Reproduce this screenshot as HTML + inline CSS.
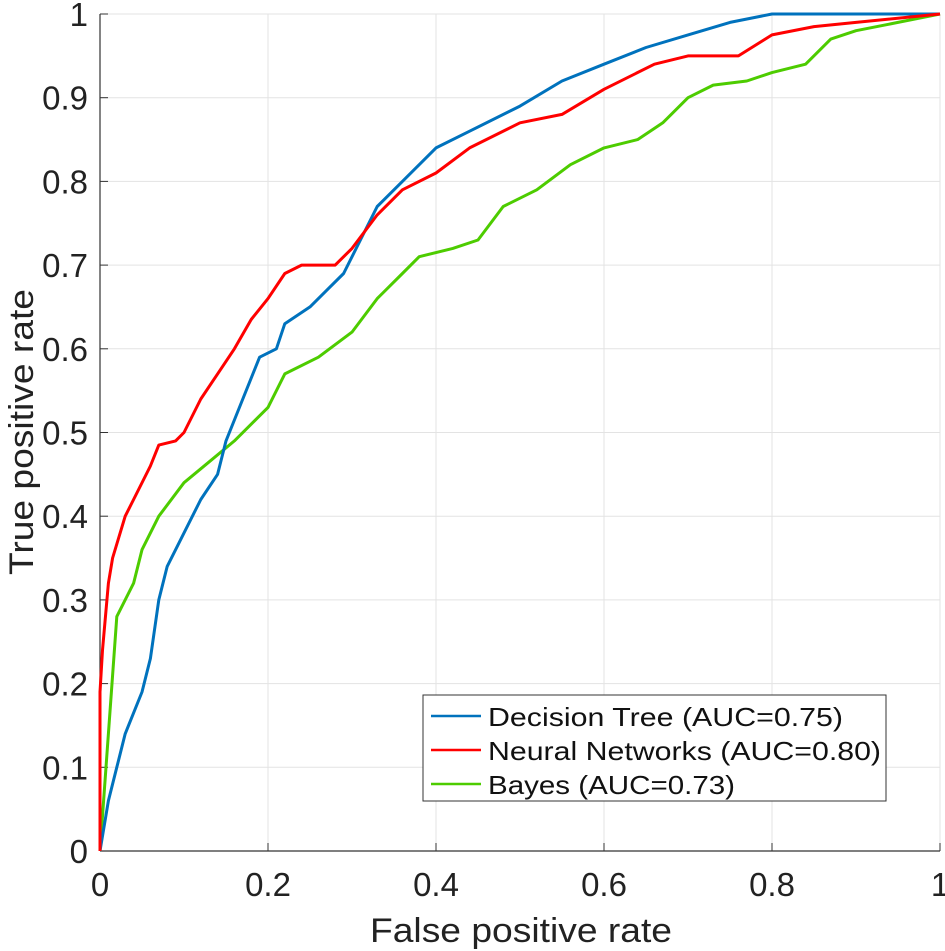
<!DOCTYPE html>
<html><head><meta charset="utf-8"><style>
body{margin:0;background:#fff}
svg{display:block;font-family:"Liberation Sans",Arial,sans-serif}
</style></head><body>
<svg id="chart" width="945" height="951" viewBox="0 0 945 951" xmlns="http://www.w3.org/2000/svg">
<g id="grid"></g>
<g id="axes"></g>
<g id="series"></g>
<text x="521" y="942" font-size="34" text-anchor="middle" textLength="302" lengthAdjust="spacingAndGlyphs" fill="#222">False positive rate</text>
<text transform="translate(33,432) rotate(-90)" font-size="34" text-anchor="middle" textLength="286" lengthAdjust="spacingAndGlyphs" fill="#222">True positive rate</text>
<g>
<rect x="423" y="695" width="463" height="106" fill="#fff" stroke="#333" stroke-width="1"/>
<line x1="431" y1="716" x2="481" y2="716" stroke="#0072BD" stroke-width="2.5"/>
<text x="488" y="726" font-size="26" textLength="355" lengthAdjust="spacingAndGlyphs" fill="#111">Decision Tree (AUC=0.75)</text>
<line x1="431" y1="750" x2="481" y2="750" stroke="#FF0000" stroke-width="2.5"/>
<text x="488" y="760" font-size="26" textLength="393" lengthAdjust="spacingAndGlyphs" fill="#111">Neural Networks (AUC=0.80)</text>
<line x1="431" y1="784" x2="481" y2="784" stroke="#4DCC00" stroke-width="2.5"/>
<text x="488" y="794" font-size="26" textLength="247" lengthAdjust="spacingAndGlyphs" fill="#111">Bayes (AUC=0.73)</text>
</g>
</svg>
<script>
const xTicks=[0,0.2,0.4,0.6,0.8,1];
const xTickLabels=["0","0.2","0.4","0.6","0.8","1"];
const yTicks=[0,0.1,0.2,0.3,0.4,0.5,0.6,0.7,0.8,0.9,1];
const yTickLabels=["0","0.1","0.2","0.3","0.4","0.5","0.6","0.7","0.8","0.9","1"];
const dtFpr=[0,0.01,0.02,0.03,0.05,0.06,0.07,0.08,0.1,0.12,0.14,0.15,0.17,0.19,0.21,0.22,0.25,0.27,0.29,0.31,0.33,0.36,0.38,0.4,0.44,0.5,0.55,0.6,0.65,0.7,0.75,0.8,1];
const dtTpr=[0,0.06,0.1,0.14,0.19,0.23,0.3,0.34,0.38,0.42,0.45,0.49,0.54,0.59,0.6,0.63,0.65,0.67,0.69,0.73,0.77,0.8,0.82,0.84,0.86,0.89,0.92,0.94,0.96,0.975,0.99,1,1];
const nnFpr=[0,0,0.003,0.01,0.015,0.03,0.04,0.06,0.07,0.09,0.1,0.12,0.14,0.16,0.18,0.2,0.22,0.24,0.28,0.3,0.33,0.36,0.4,0.44,0.5,0.55,0.6,0.66,0.7,0.76,0.8,0.85,0.9,1];
const nnTpr=[0,0.19,0.24,0.32,0.35,0.4,0.42,0.46,0.485,0.49,0.5,0.54,0.57,0.6,0.635,0.66,0.69,0.7,0.7,0.72,0.76,0.79,0.81,0.84,0.87,0.88,0.91,0.94,0.95,0.95,0.975,0.985,0.99,1];
const bFpr=[0,0.02,0.04,0.05,0.07,0.1,0.13,0.16,0.2,0.22,0.26,0.3,0.33,0.36,0.38,0.42,0.45,0.48,0.52,0.56,0.6,0.64,0.67,0.7,0.73,0.77,0.8,0.84,0.87,0.9,0.95,1];
const bTpr=[0,0.28,0.32,0.36,0.4,0.44,0.465,0.49,0.53,0.57,0.59,0.62,0.66,0.69,0.71,0.72,0.73,0.77,0.79,0.82,0.84,0.85,0.87,0.9,0.915,0.92,0.93,0.94,0.97,0.98,0.99,1];

const X0=100,X1=940,Y0=851,Y1=14;
const sx=v=>X0+v*(X1-X0), sy=v=>Y0-v*(Y0-Y1);
const NS="http://www.w3.org/2000/svg";
function mk(tag,attrs,parent,text){const e=document.createElementNS(NS,tag);for(const k in attrs)e.setAttribute(k,attrs[k]);if(text!==undefined)e.textContent=text;parent.appendChild(e);return e;}
const grid=document.getElementById('grid'),axes=document.getElementById('axes'),series=document.getElementById('series');
xTicks.forEach((t,i)=>{
  const g=mk('line',{x1:sx(t),x2:sx(t),y1:Y0,y2:Y1,stroke:'#e3e3e3','stroke-width':1},grid);
  
  
  const tk=mk('line',{x1:sx(t),x2:sx(t),y1:Y0,y2:Y0-8,stroke:'#333','stroke-width':1},axes);
  
  
  const l=mk('text',{x:sx(t),y:Y0+45,'font-size':33,'text-anchor':'middle',fill:'#222'},axes,xTickLabels[i]);
  
  
});
yTicks.forEach((t,i)=>{
  const g=mk('line',{x1:X0,x2:X1,y1:sy(t),y2:sy(t),stroke:'#e3e3e3','stroke-width':1},grid);
  
  
  const tk=mk('line',{x1:X0,x2:X0+8,y1:sy(t),y2:sy(t),stroke:'#333','stroke-width':1},axes);
  
  
  const l=mk('text',{x:X0-12,y:sy(t)+12,'font-size':33,'text-anchor':'end',fill:'#222'},axes,yTickLabels[i]);
  
  
});
const xa=mk('line',{x1:X0,x2:X1,y1:Y0,y2:Y0,stroke:'#333','stroke-width':1.2},axes);


const ya=mk('line',{x1:X0,x2:X0,y1:Y0,y2:Y1,stroke:'#333','stroke-width':1.2},axes);


function drawLine(xs,ys,color,name){
  const pts=xs.map((x,i)=>sx(x).toFixed(1)+','+sy(ys[i]).toFixed(1)).join(' ');
  const p=mk('polyline',{points:pts,fill:'none',stroke:color,'stroke-width':3,'stroke-linejoin':'round'},series);
  
  
}
drawLine(bFpr,bTpr,'#4DCC00','bayes-line');
drawLine(dtFpr,dtTpr,'#0072BD','decision-tree-line');
drawLine(nnFpr,nnTpr,'#FF0000','neural-networks-line');
</script>
</body></html>
